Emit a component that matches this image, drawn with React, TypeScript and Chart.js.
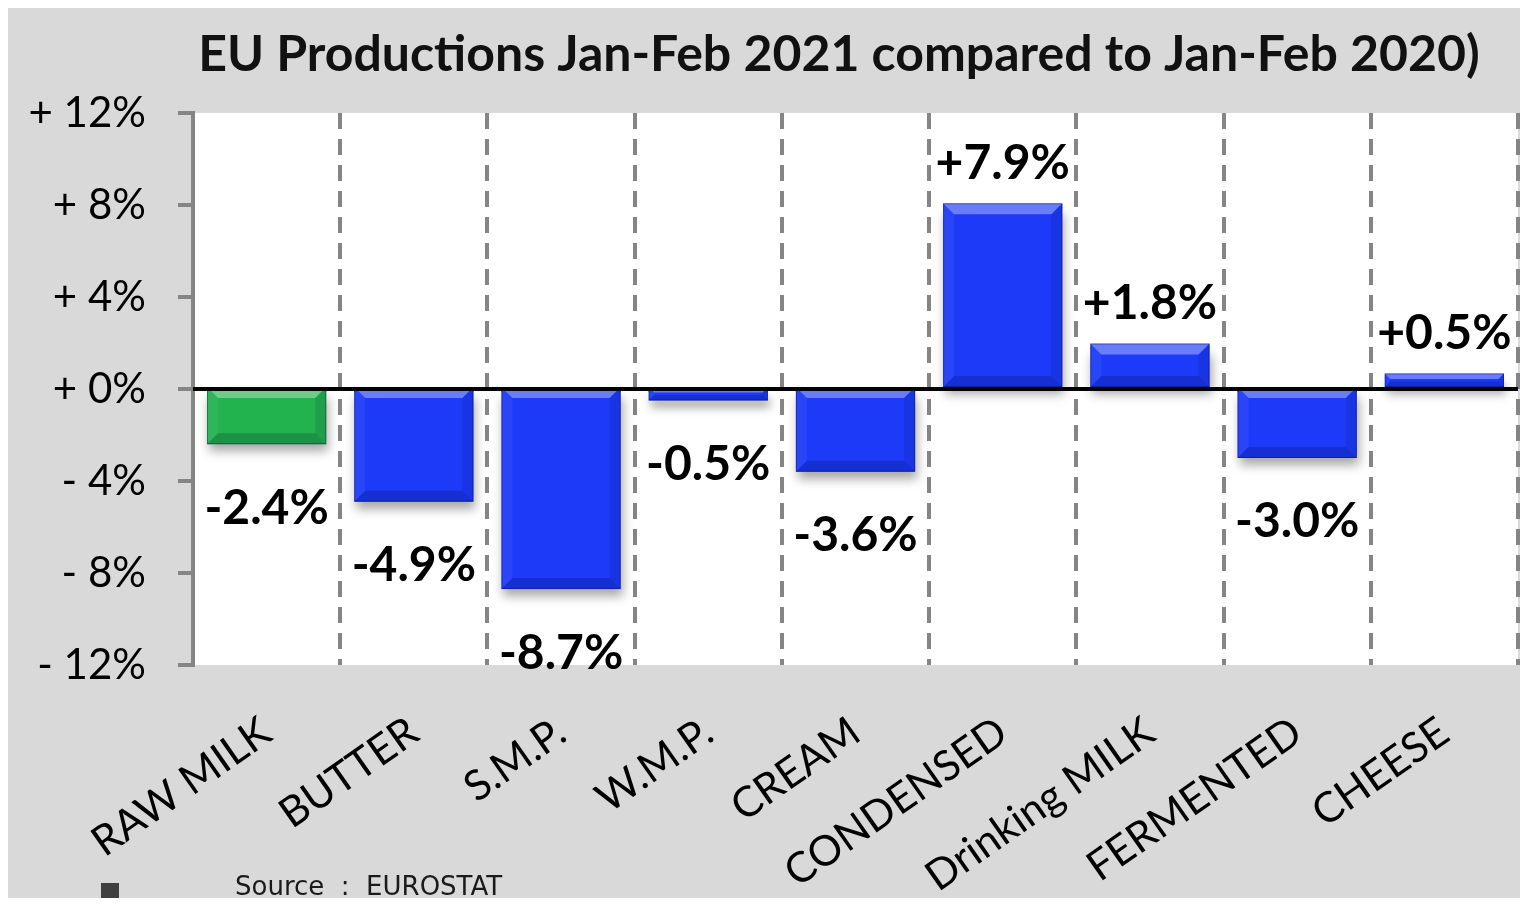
import { useEffect, useRef } from "react";
import { Chart, registerables } from "chart.js";

Chart.register(...registerables);

const categories = [
  "RAW MILK",
  "BUTTER",
  "S.M.P.",
  "W.M.P.",
  "CREAM",
  "CONDENSED",
  "Drinking MILK",
  "FERMENTED",
  "CHEESE",
];
const changes = [-2.4, -4.9, -8.7, -0.5, -3.6, 7.9, 1.8, -3.0, 0.5];
const yTickValues = [-12, -8, -4, 0, 4, 8, 12];
const titleText = "EU Productions Jan-Feb 2021 compared to Jan-Feb 2020)";
const sourceText = "Source  :  EUROSTAT";

const W = 1520;
const H = 898;
const BG = "#d9d9d9";
const AXIS_GRAY = "#858585";
const GREEN = "#22b24e";
const BLUE = "#1c3af8";
const FONT = "Lato, 'Open Sans', sans-serif";

const fmtLabel = (v: number) => (v > 0 ? "+" : "") + v.toFixed(1) + "%";
const fmtTick = (v: number) => (v >= 0 ? "+ " : "- ") + Math.abs(v) + "%";

const decorPlugin = {
  id: "decor",
  beforeDraw(chart: any) {
    const { ctx, chartArea: a } = chart;
    ctx.save();
    ctx.fillStyle = BG;
    ctx.fillRect(0, 0, chart.width, chart.height);
    ctx.fillStyle = "#ffffff";
    ctx.fillRect(a.left, a.top, a.right - a.left, a.bottom - a.top);
    ctx.restore();
  },
  beforeDatasetsDraw(chart: any) {
    const ctx = chart.ctx;
    ctx.save();
    ctx.shadowColor = "rgba(0,0,0,0.35)";
    ctx.shadowBlur = 10;
    ctx.shadowOffsetX = 2;
    ctx.shadowOffsetY = 7;
  },
  afterDatasetsDraw(chart: any) {
    const ctx = chart.ctx;
    ctx.restore();
    const meta = chart.getDatasetMeta(0);
    const yScale = chart.scales.y;
    const a = chart.chartArea;
    // bevel
    meta.data.forEach((el: any) => {
      const p = el.getProps(["x", "y", "base", "width"], true);
      const left = p.x - p.width / 2;
      const right = p.x + p.width / 2;
      const top = Math.min(p.y, p.base) - 4;
      const bottom = Math.max(p.y, p.base);
      const h = bottom - top;
      const b = Math.min(11, h / 2.5);
      const poly = (pts: number[][], fill: string) => {
        ctx.beginPath();
        ctx.moveTo(pts[0][0], pts[0][1]);
        for (let i = 1; i < pts.length; i++) ctx.lineTo(pts[i][0], pts[i][1]);
        ctx.closePath();
        ctx.fillStyle = fill;
        ctx.fill();
      };
      ctx.save();
      ctx.fillStyle = el.options.backgroundColor;
      ctx.fillRect(left, top, p.width, 5);
      poly([[left, top], [right, top], [right - b, top + b], [left + b, top + b]], "rgba(255,255,255,0.34)");
      poly([[left, bottom], [right, bottom], [right - b, bottom - b], [left + b, bottom - b]], "rgba(0,0,40,0.18)");
      poly([[left, top], [left + b, top + b], [left + b, bottom - b], [left, bottom]], "rgba(255,255,255,0.06)");
      poly([[right, top], [right - b, top + b], [right - b, bottom - b], [right, bottom]], "rgba(0,0,40,0.10)");
      ctx.strokeStyle = "rgba(0,0,60,0.35)";
      ctx.lineWidth = 1;
      ctx.strokeRect(left + 0.5, top + 0.5, p.width - 1, h - 1);
      ctx.restore();
    });
    // zero line
    const y0 = yScale.getPixelForValue(0);
    ctx.save();
    ctx.strokeStyle = "#000";
    ctx.lineWidth = 4;
    ctx.beginPath();
    ctx.moveTo(a.left, y0);
    ctx.lineTo(a.right, y0);
    ctx.stroke();
    ctx.restore();
    // data labels
    ctx.save();
    ctx.font = `bold 48px ${FONT}`;
    ctx.fillStyle = "#000";
    ctx.textAlign = "center";
    ctx.textBaseline = "middle";
    meta.data.forEach((el: any, i: number) => {
      const v = changes[i];
      const p = el.getProps(["x", "y"], true);
      const ly = v >= 0 ? p.y - 44 : p.y + 64;
      ctx.fillText(fmtLabel(v), p.x, ly);
    });
    ctx.restore();
  },
  afterDraw(chart: any) {
    const ctx = chart.ctx;
    ctx.save();
    // title
    ctx.font = `bold 50px ${FONT}`;
    ctx.fillStyle = "#111";
    ctx.textAlign = "center";
    ctx.textBaseline = "middle";
    ctx.fillText(titleText, 831, 47);
    // source
    ctx.font = "26px 'DejaVu Sans', sans-serif";
    ctx.fillStyle = "#1a1a1a";
    ctx.textAlign = "left";
    ctx.textBaseline = "middle";
    ctx.fillText(sourceText, 227, 880);
    // small arrow mark
    ctx.fillStyle = "#404040";
    ctx.fillRect(93, 875, 18, 18);
    ctx.beginPath();
    ctx.moveTo(87, 893);
    ctx.lineTo(117, 893);
    ctx.lineTo(102, 908);
    ctx.closePath();
    ctx.fill();
    ctx.restore();
  },
};

export default function App() {
  const ref = useRef<HTMLCanvasElement | null>(null);
  useEffect(() => {
    if (!ref.current) return;
    const chart = new Chart(ref.current, {
      type: "bar",
      data: {
        labels: categories,
        datasets: [
          {
            data: changes,
            backgroundColor: (c: any) => (c.dataIndex === 0 ? GREEN : BLUE),
            borderWidth: 0,
            categoryPercentage: 0.9,
            barPercentage: 0.9,
          },
        ],
      },
      options: {
        responsive: false,
        animation: false,
        layout: { padding: { top: 105, right: 10, left: 0, bottom: 0 } },
        plugins: {
          legend: { display: false },
          title: { display: false },
          tooltip: { enabled: false },
        },
        scales: {
          x: {
            grid: {
              display: true,
              drawOnChartArea: true,
              drawTicks: false,
              color: AXIS_GRAY,
              lineWidth: 4,
              offset: true,
            },
            border: { display: false, dash: [16, 10] },
            ticks: {
              autoSkip: false,
              maxRotation: 35,
              minRotation: 35,
              padding: 42,
              color: "#000",
              font: { family: FONT, size: 42 },
            },
            afterFit: (s: any) => {
              s.height = 241;
            },
          },
          y: {
            min: -12,
            max: 12,
            afterBuildTicks: (s: any) => {
              s.ticks = yTickValues.map((v) => ({ value: v }));
            },
            grid: {
              display: true,
              drawOnChartArea: false,
              drawTicks: true,
              tickLength: 15,
              color: AXIS_GRAY,
              lineWidth: 4,
            },
            border: { display: true, color: AXIS_GRAY, width: 4 },
            ticks: {
              padding: 32,
              color: "#000",
              font: { family: FONT, size: 42 },
              callback: (v: any) => fmtTick(Number(v)),
            },
            afterFit: (s: any) => {
              s.width = 185;
            },
          },
        },
      },
      plugins: [decorPlugin],
    });
    return () => chart.destroy();
  }, []);
  return (
    <div style={{ width: W, height: H, marginBottom: -8 }}>
      <canvas ref={ref} width={W} height={H} style={{ display: "block", width: W, height: H }} />
    </div>
  );
}
